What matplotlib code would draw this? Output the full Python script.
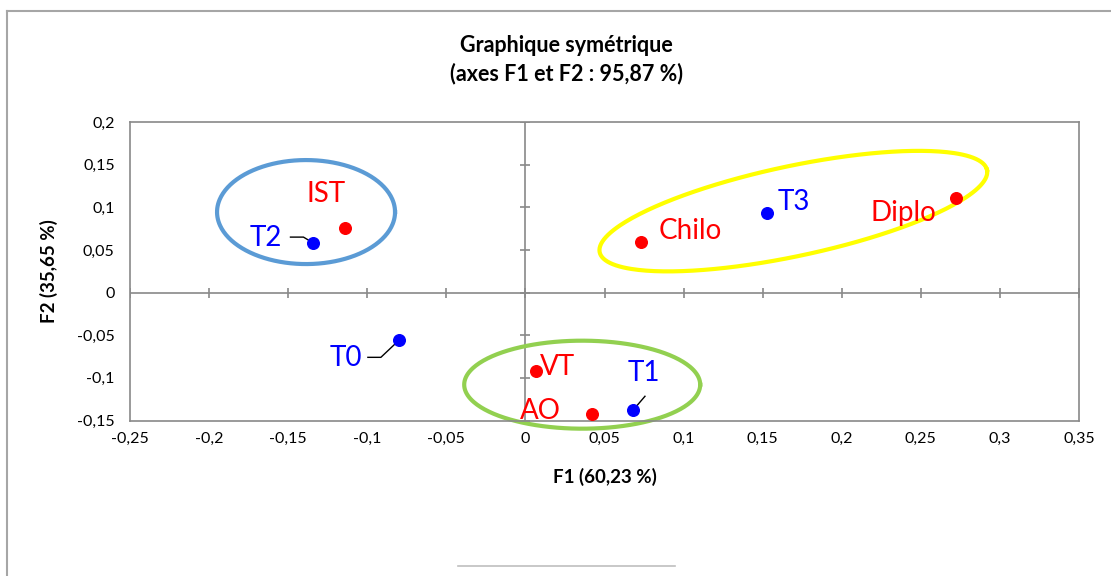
import numpy as np
import matplotlib
matplotlib.use("Agg")
import matplotlib.pyplot as plt
from matplotlib.lines import Line2D

plt.rcParams['font.family'] = ['Lato', 'DejaVu Sans']

##########################################################

# data : coordinates on F1 / F2

row_names = ["T0", "T1", "T2", "T3"]
row_f1 = [-0.080, 0.068, -0.134, 0.153]
row_f2 = [-0.056, -0.138, 0.058, 0.093]

col_names = ["AO", "Chilo", "Diplo", "IST", "VT"]
col_f1 = [0.042, 0.073, 0.272, -0.114, 0.007]
col_f2 = [-0.142, 0.059, 0.111, 0.076, -0.092]

xticks = [-0.25, -0.2, -0.15, -0.1, -0.05, 0, 0.05, 0.1, 0.15, 0.2, 0.25, 0.3, 0.35]
xticklabels = ["-0,25", "-0,2", "-0,15", "-0,1", "-0,05", "0", "0,05", "0,1",
               "0,15", "0,2", "0,25", "0,3", "0,35"]
yticks = [-0.15, -0.1, -0.05, 0, 0.05, 0.1, 0.15, 0.2]
yticklabels = ["-0,15", "-0,1", "-0,05", "0", "0,05", "0,1", "0,15", "0,2"]

# label offsets (pixels) from each point
label_offsets = {"T0": (-53, -18), "T1": (11, 37), "T2": (-48, 5), "T3": (26, 11),
                 "AO": (-51, 3), "Chilo": (49, 11), "Diplo": (-52, -15),
                 "IST": (-19, 34), "VT": (21, 4)}
leaders = {"T2": [(-23, 6), (-10, 6), (0, 0)],
           "T0": [(-31, -17), (-18, -17), (0, 0)],
           "T1": [(12, 14), (0, 0)]}

# groups circled : centre (data), half axes (pixels), angle
groups = [((-0.1387, 0.0944), 89, 52, 0, "#5b9bd5"),
          ((0.1694, 0.0955), 198, 45, 12, "#ffff00"),
          ((0.0359, -0.108), 118, 44, 0, "#92d050")]

gray = "#898989"

##########################################################

fig = plt.figure(figsize=(11.11, 5.76), dpi=100)
W, H = 1111, 576
ax = fig.add_axes([130 / W, 1 - 420.5 / H, (1079 - 130) / W, (420.5 - 122) / H])
ax.set_xlim(-0.25, 0.35)
ax.set_ylim(-0.15, 0.2)

for s in ax.spines.values():
    s.set_color(gray)
    s.set_linewidth(1.2)

ax.set_xticks(xticks)
ax.set_xticklabels(xticklabels)
ax.set_yticks(yticks)
ax.set_yticklabels(yticklabels)
ax.tick_params(length=0, labelsize=11.5)
ax.tick_params(axis="y", pad=11)
ax.tick_params(axis="x", pad=8)

ax.axhline(0, color=gray, lw=1.2, zorder=1)
ax.axvline(0, color=gray, lw=1.2, zorder=1)
ax.plot(xticks, [0] * len(xticks), ls="none", marker="|", ms=7, mew=1.2, color=gray, zorder=1)
ax.plot([0] * len(yticks), yticks, ls="none", marker="_", ms=7, mew=1.2, color=gray, zorder=1)

ax.set_xlabel("F1 (60,23 %)", fontsize=13.5, fontweight="bold", labelpad=16)
ax.set_ylabel("F2 (35,65 %)", fontsize=13.5, fontweight="bold", labelpad=14)

fig.canvas.draw()


def pix_to_data(x0, y0, dxs, dys):
    base = ax.transData.transform((x0, y0))
    pts = np.column_stack([base[0] + np.asarray(dxs), base[1] + np.asarray(dys)])
    return ax.transData.inverted().transform(pts)


# ellipses
t = np.linspace(0, 2 * np.pi, 300)
for (cx, cy), a, b, ang, col in groups:
    th = np.deg2rad(ang)
    dx = a * np.cos(t) * np.cos(th) - b * np.sin(t) * np.sin(th)
    dy = a * np.cos(t) * np.sin(th) + b * np.sin(t) * np.cos(th)
    pts = pix_to_data(cx, cy, dx, dy)
    ax.plot(pts[:, 0], pts[:, 1], color=col, lw=3, zorder=2, clip_on=False)

# points
ax.scatter(row_f1, row_f2, s=70, color="#0000ff", zorder=4, clip_on=False)
ax.scatter(col_f1, col_f2, s=70, color="#ff0000", zorder=4, clip_on=False)

for names, xs, ys, col in [(row_names, row_f1, row_f2, "#0000ff"),
                           (col_names, col_f1, col_f2, "#ff0000")]:
    for n, x, y in zip(names, xs, ys):
        ox, oy = label_offsets[n]
        ax.annotate(n, (x, y), xytext=(ox, oy), textcoords="offset pixels",
                    ha="center", va="center", fontsize=20, color=col, zorder=5)
        if n in leaders:
            seg = leaders[n]
            pts = pix_to_data(x, y, [p[0] for p in seg], [p[1] for p in seg])
            ax.plot(pts[:, 0], pts[:, 1], color="black", lw=1, zorder=3)

# title
fig.text(566 / W, 1 - 46 / H, "Graphique symétrique", ha="center", va="center",
         fontsize=15.5, fontweight="bold")
fig.text(566 / W, 1 - 74 / H, "(axes F1 et F2 : 95,87 %)", ha="center", va="center",
         fontsize=15.5, fontweight="bold")

# chart frame
fig.add_artist(Line2D([7 / W, 7 / W], [0, 1 - 11 / H], color="#a6a6a6", lw=1.5))
fig.add_artist(Line2D([7 / W, 1], [1 - 11 / H, 1 - 11 / H], color="#a6a6a6", lw=1.5))
fig.add_artist(Line2D([458 / W, 675 / W], [1 - 566 / H, 1 - 566 / H], color="#bfbfbf", lw=1.2))

fig.savefig("out.png", dpi=100)
